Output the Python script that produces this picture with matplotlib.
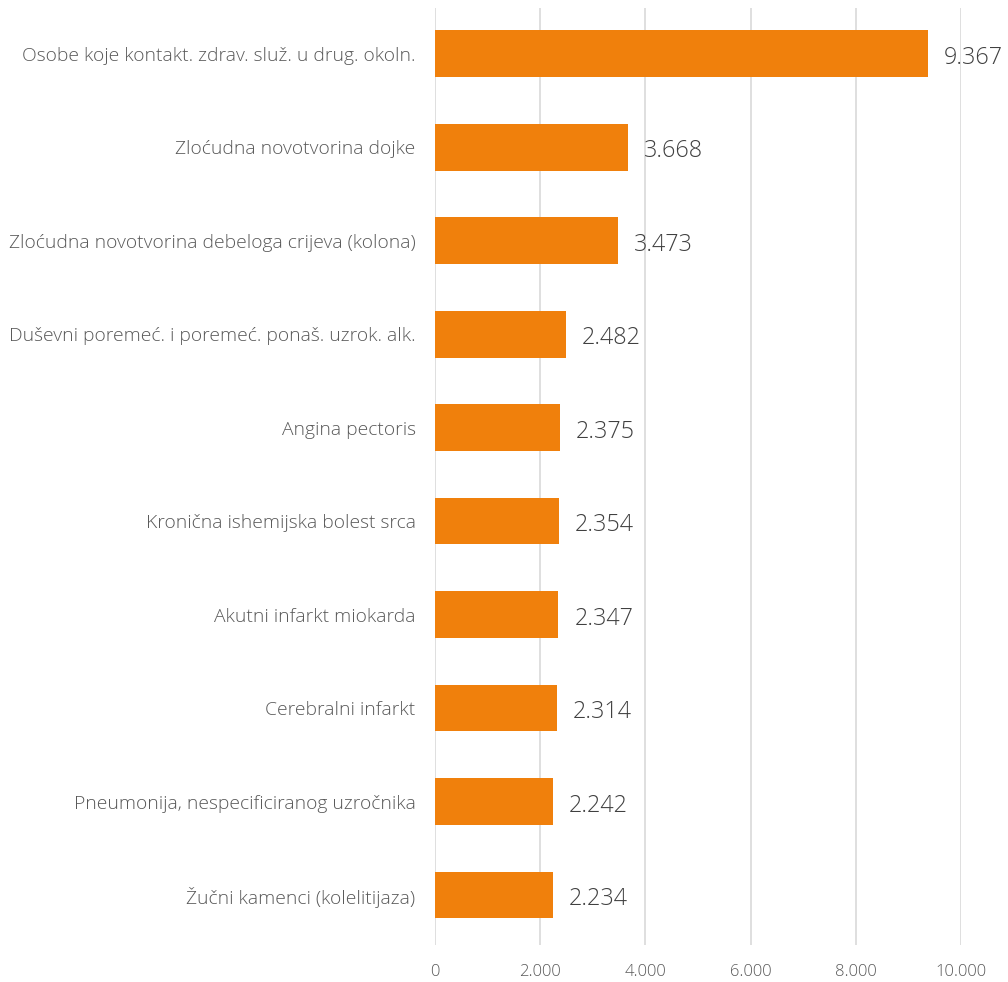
import matplotlib
matplotlib.use("Agg")
import matplotlib.pyplot as plt

categories = [
    "Osobe koje kontakt. zdrav. služ. u drug. okoln.",
    "Zloćudna novotvorina dojke",
    "Zloćudna novotvorina debeloga crijeva (kolona)",
    "Duševni poremeć. i poremeć. ponaš. uzrok. alk.",
    "Angina pectoris",
    "Kronična ishemijska bolest srca",
    "Akutni infarkt miokarda",
    "Cerebralni infarkt",
    "Pneumonija, nespecificiranog uzročnika",
    "Žučni kamenci (kolelitijaza)",
]
values = [9367, 3668, 3473, 2482, 2375, 2354, 2347, 2314, 2242, 2234]
value_labels = ["9.367", "3.668", "3.473", "2.482", "2.375", "2.354", "2.347", "2.314", "2.242", "2.234"]
xticks = [0, 2000, 4000, 6000, 8000, 10000]
xtick_labels = ["0", "2.000", "4.000", "6.000", "8.000", "10.000"]

plt.rcParams['font.family'] = ['Open Sans', 'DejaVu Sans']

W, H = 1008, 982
fig = plt.figure(figsize=(W / 100, H / 100), dpi=100)
ax = fig.add_axes([435 / W, 1 - 945 / H, (961 - 435) / W, (945 - 8) / H])

n = len(categories)
ypos = list(range(n))[::-1]
ax.barh(ypos, values, height=0.5, color="#F0800C", zorder=3)
ax.set_ylim(-0.535, n - 0.51)
ax.set_xlim(0, 10000)

for y, v, lab in zip(ypos, values, value_labels):
    ax.annotate(lab, (v, y), xytext=(16, -4), textcoords="offset pixels",
                va="center", ha="left", fontsize=16.8, color="#404040", fontweight="light")

ax.set_yticks(ypos)
ax.set_yticklabels(categories, fontsize=13.9, color="#595959", fontweight="light")
ax.set_xticks(xticks)
ax.set_xticklabels(xtick_labels, fontsize=12, color="#595959", fontweight="light")
ax.tick_params(axis="both", length=0)
ax.tick_params(axis="y", pad=14)
ax.tick_params(axis="x", pad=14)
ax.grid(axis="x", color="#D9D9D9", linewidth=1.2, zorder=0)
for s in ax.spines.values():
    s.set_visible(False)

fig.savefig("out.png", dpi=100, facecolor="white")
